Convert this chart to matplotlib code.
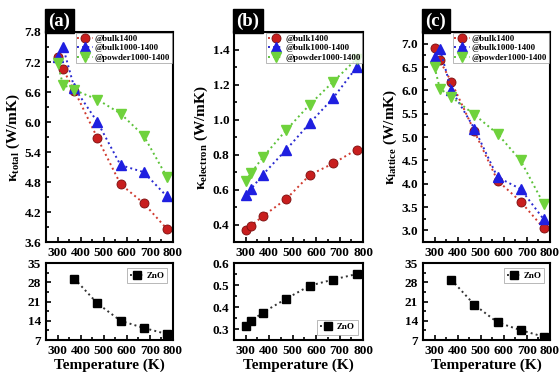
import matplotlib
matplotlib.use('Agg')
import matplotlib.pyplot as plt
from matplotlib.ticker import MultipleLocator, AutoMinorLocator

plt.rcParams['font.family'] = 'Liberation Serif'
plt.rcParams['font.weight'] = 'bold'
plt.rcParams['axes.labelweight'] = 'bold'
plt.rcParams['mathtext.fontset'] = 'custom'
plt.rcParams['mathtext.rm'] = 'Liberation Serif:bold'
plt.rcParams['mathtext.it'] = 'Liberation Serif:bold'
plt.rcParams['mathtext.bf'] = 'Liberation Serif:bold'

# temperatures (K)
temps = [300, 323, 373, 473, 573, 673, 773]
temps_zno = [373, 473, 573, 673, 773]
temps_zno_e = [300, 323, 373, 473, 573, 673, 773]

labels = ['@bulk1400', '@bulk1000-1400', '@powder1000-1400']

# (a) total thermal conductivity
k_total_bulk1400 = [7.30, 7.06, 6.63, 5.68, 4.76, 4.38, 3.87]
k_total_bulk1000 = [7.31, 7.51, 6.68, 6.00, 5.14, 5.00, 4.52]
k_total_powder = [7.19, 6.75, 6.64, 6.45, 6.17, 5.73, 4.91]
k_total_zno = [29.3, 20.3, 14.0, 11.4, 9.2]

# (b) electronic thermal conductivity
k_e_bulk1400 = [0.37, 0.395, 0.448, 0.547, 0.684, 0.75, 0.829]
k_e_bulk1000 = [0.57, 0.604, 0.686, 0.829, 0.98, 1.124, 1.30]
k_e_powder = [0.651, 0.695, 0.785, 0.941, 1.086, 1.217, 1.347]
k_e_zno = [0.312, 0.336, 0.375, 0.438, 0.497, 0.525, 0.55]

# (c) lattice thermal conductivity
k_l_bulk1400 = [6.91, 6.64, 6.18, 5.12, 4.07, 3.62, 3.05]
k_l_bulk1000 = [6.71, 6.89, 6.01, 5.18, 4.14, 3.89, 3.24]
k_l_powder = [6.50, 6.04, 5.86, 5.48, 5.07, 4.50, 3.57]
k_l_zno = [28.9, 19.8, 13.4, 10.6, 8.2]

fig = plt.figure(figsize=(5.59, 3.72), dpi=100)

lefts = [0.0823, 0.4186, 0.7567]
widths = [0.227, 0.231, 0.227]

red_line = '#d03a2f'
blue_line = '#2a2ad0'
green_line = '#5dc23a'


def style(ax):
    for s in ax.spines.values():
        s.set_linewidth(1.5)
    ax.tick_params(direction='in', which='both', top=False, right=False,
                   labelsize=9.5, width=1.2)
    ax.tick_params(which='major', length=3.5)
    ax.tick_params(which='minor', length=2)
    ax.set_xlim(250, 800)
    ax.xaxis.set_major_locator(MultipleLocator(100))
    ax.xaxis.set_minor_locator(AutoMinorLocator(2))
    ax.yaxis.set_minor_locator(AutoMinorLocator(2))
    for t in ax.get_xticklabels() + ax.get_yticklabels():
        t.set_fontweight('bold')


def top_panel(i, y1, y2, y3, ylim, step, ylabel, tag):
    ax = fig.add_axes([lefts[i], 0.349, widths[i], 0.565])
    ax.plot(temps, y1, ':', color=red_line, lw=1.4, marker='o', ms=6.5,
            mfc='#c81e1e', mec='#7a0e0e', mew=0.6, label=labels[0])
    ax.plot(temps, y2, ':', color=blue_line, lw=1.4, marker='^', ms=6.5,
            mfc='#1f1fe0', mec='#1f1fe0', label=labels[1])
    ax.plot(temps, y3, ':', color=green_line, lw=1.4, marker='v', ms=6.5,
            mfc='#6fd23c', mec='#6fd23c', label=labels[2])
    ax.set_ylim(*ylim)
    ax.yaxis.set_major_locator(MultipleLocator(step))
    style(ax)
    ax.set_ylabel(ylabel, fontsize=11, labelpad=2)
    leg = ax.legend(loc='upper right', frameon=True, fancybox=False,
                    handlelength=1.8, handletextpad=0.2, borderpad=0.2,
                    labelspacing=0.15, borderaxespad=0.1, edgecolor='#999999',
                    prop={'weight': 'bold', 'size': 6.3})
    leg.get_frame().set_linewidth(0.6)
    ax.text(0.02, 1.01, tag, transform=ax.transAxes, color='white',
            fontsize=13.5, fontweight='bold', va='bottom', ha='left',
            bbox=dict(boxstyle='square,pad=0.18', fc='black', ec='black'))
    return ax


def bottom_panel(i, x, y, ylim, ticks, legloc):
    ax = fig.add_axes([lefts[i], 0.086, widths[i], 0.207])
    ax.plot(x, y, ':', color='#333333', lw=1.4, marker='s', ms=5.5,
            mfc='black', mec='black', label='ZnO')
    ax.set_ylim(*ylim)
    ax.set_yticks(ticks)
    style(ax)
    ax.set_xlabel('Temperature (K)', fontsize=11, labelpad=1)
    leg = ax.legend(loc=legloc, frameon=True, fancybox=False,
                    handlelength=1.6, handletextpad=0.2, borderpad=0.35,
                    borderaxespad=0.6, edgecolor='#999999',
                    prop={'weight': 'bold', 'size': 6.5})
    leg.get_frame().set_linewidth(0.6)
    return ax


top_panel(0, k_total_bulk1400, k_total_bulk1000, k_total_powder, (3.6, 7.8), 0.6,
          r'$\kappa_{\mathrm{total}}$ (W/mK)', '(a)')
top_panel(1, k_e_bulk1400, k_e_bulk1000, k_e_powder, (0.3, 1.5), 0.2,
          r'$\kappa_{\mathrm{electron}}$ (W/mK)', '(b)')
top_panel(2, k_l_bulk1400, k_l_bulk1000, k_l_powder, (2.75, 7.25), 0.5,
          r'$\kappa_{\mathrm{lattice}}$ (W/mK)', '(c)')

bottom_panel(0, temps_zno, k_total_zno, (7, 35), [7, 14, 21, 28, 35], 'upper right')
bottom_panel(1, temps_zno_e, k_e_zno, (0.25, 0.6), [0.3, 0.4, 0.5, 0.6], 'lower right')
bottom_panel(2, temps_zno, k_l_zno, (7, 35), [7, 14, 21, 28, 35], 'upper right')

fig.savefig('out.png', dpi=100)
